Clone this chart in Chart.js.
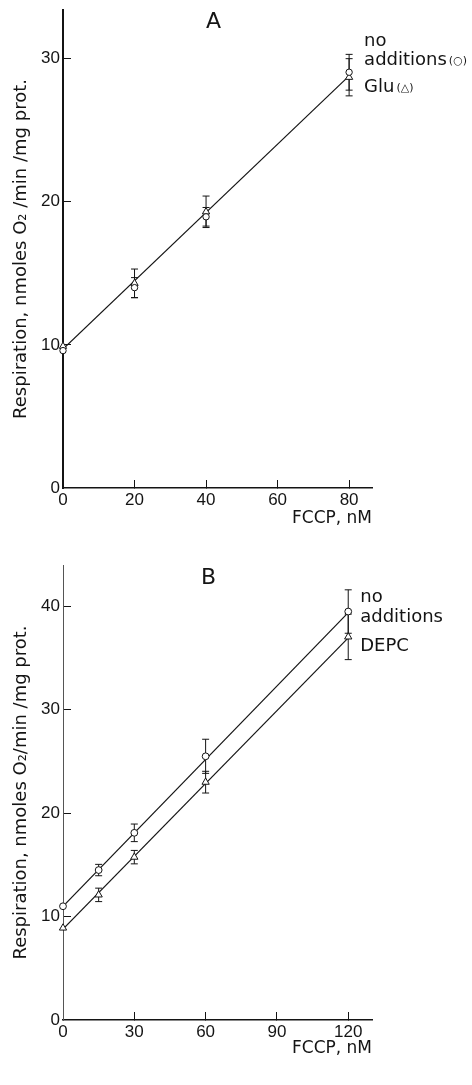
<!DOCTYPE html>
<html>
<head>
<meta charset="utf-8">
<script src="https://cdn.jsdelivr.net/npm/chart.js@4.4.0/dist/chart.umd.min.js"></script>
<style>
  body { margin: 0; background: #fff; }
  canvas { position: absolute; left: 0; }
</style>
</head>
<body>
<canvas id="panelA" width="472" height="535" style="top:0"></canvas>
<canvas id="panelB" width="472" height="550" style="top:535px"></canvas>
<script>
// A: FCCP titration, no additions vs glutamate
const fccpA = [0, 20, 40, 80];
const noAddA = [9.6, 14.0, 18.95, 29.05];
const noAddErrA = [0, 0.7, 0.65, 1.25];
const gluA = [9.9, 14.3, 19.3, 28.7];
const gluErrA = [0, 1.0, 1.1, 1.3];
const fitXA = [0, 80];
const fitA = [9.7, 28.8];
const xTicksA = [0, 20, 40, 60, 80];
const yTicksA = [0, 10, 20, 30];

// B: FCCP titration, no additions vs DEPC
const fccpB = [0, 15, 30, 60, 120];
const noAddB = [11.0, 14.5, 18.1, 25.5, 39.5];
const noAddErrB = [0, 0.55, 0.85, 1.65, 2.1];
const depcB = [8.9, 12.1, 15.75, 23.0, 37.05];
const depcErrB = [0, 0.65, 0.65, 1.05, 2.2];
const fitXB = [0, 120];
const noAddFitB = [11.0, 39.4];
const depcFitB = [8.8, 36.95];
const xTicksB = [0, 30, 60, 90, 120];
const yTicksB = [0, 10, 20, 30, 40];

const ink = '#141414';
const face = '"DejaVu Sans", sans-serif';
const tickFont = { family: '"Liberation Sans", sans-serif', size: 17 };

const pts = (xs, ys) => xs.map((x, i) => ({ x: x, y: ys[i] }));

// whiskers for mean +/- error, drawn under the markers
const errorBars = {
  id: 'errorBars',
  beforeDatasetsDraw(chart) {
    const { ctx, scales: { x, y } } = chart;
    ctx.save();
    ctx.strokeStyle = ink;
    ctx.lineWidth = 1;
    chart.data.datasets.forEach(ds => {
      if (!ds.errors) return;
      ds.data.forEach((p, i) => {
        const e = ds.errors[i];
        if (!e) return;
        const px = x.getPixelForValue(p.x);
        const top = y.getPixelForValue(p.y + e);
        const bot = y.getPixelForValue(p.y - e);
        ctx.beginPath();
        ctx.moveTo(px, top); ctx.lineTo(px, bot);
        ctx.moveTo(px - 3.5, top); ctx.lineTo(px + 3.5, top);
        ctx.moveTo(px - 3.5, bot); ctx.lineTo(px + 3.5, bot);
        ctx.stroke();
      });
    });
    ctx.restore();
  }
};

// panel letter and the labels next to the last points
function panelText(letter, letterDx, letterDy, notes) {
  return {
    id: 'panelText',
    afterDraw(chart) {
      const { ctx, chartArea, scales: { x, y } } = chart;
      ctx.save();
      ctx.fillStyle = ink;
      ctx.textBaseline = 'middle';
      ctx.textAlign = 'center';
      ctx.font = '22px ' + face;
      ctx.fillText(letter, (chartArea.left + chartArea.right) / 2 + letterDx, chartArea.top + letterDy);
      ctx.textAlign = 'left';
      notes.forEach(n => {
        let px = x.getPixelForValue(n.at[0]) + n.dx;
        const py = y.getPixelForValue(n.at[1]) + n.dy;
        ctx.font = '18px ' + face;
        ctx.fillText(n.text, px, py);
        if (n.mark) {
          px += ctx.measureText(n.text).width + 2;
          ctx.font = '11px ' + face;
          ctx.fillText(n.mark, px, py + 1);
        }
      });
      ctx.restore();
    }
  };
}

function markers(label, xs, ys, errs, style, r) {
  return {
    label: label, data: pts(xs, ys), errors: errs, showLine: false, clip: false,
    pointStyle: style, pointRadius: r, pointBackgroundColor: '#fff',
    pointBorderColor: ink, pointBorderWidth: 1
  };
}

function fitLine(xs, ys) {
  return { data: pts(xs, ys), showLine: true, pointRadius: 0, borderColor: ink, borderWidth: 1.2 };
}

function drawPanel(id, o) {
  new Chart(document.getElementById(id), {
    type: 'scatter',
    data: { datasets: o.datasets },
    options: {
      responsive: false,
      animation: false,
      events: [],
      layout: { padding: { top: o.padTop, right: 100, left: 0, bottom: 0 } },
      plugins: { legend: { display: false }, tooltip: { enabled: false } },
      scales: {
        x: {
          type: 'linear', min: 0, max: o.xMax,
          afterBuildTicks: s => { s.ticks = o.xTicks.map(v => ({ value: v })); },
          afterFit: s => { s.height = o.xAxisH; s.paddingLeft = 0; s.paddingRight = 0; },
          grid: { drawOnChartArea: false, drawTicks: true, tickLength: -8, color: ink, lineWidth: 1 },
          border: { display: true, color: ink, width: 1.5 },
          ticks: { color: ink, font: tickFont, padding: 10, maxRotation: 0 },
          title: {
            display: true, text: 'FCCP, nM', align: 'end', color: ink,
            font: { family: face, size: 17 }, padding: { top: 0, bottom: o.titlePadB }
          }
        },
        y: {
          type: 'linear', min: 0, max: o.yMax,
          afterBuildTicks: s => { s.ticks = o.yTicks.map(v => ({ value: v })); },
          afterFit: s => { s.width = 63; s.paddingTop = 0; s.paddingBottom = 0; },
          grid: {
            drawOnChartArea: false, drawTicks: true, tickLength: -8, lineWidth: 1,
            color: c => (c.tick && c.tick.value === 0 ? 'rgba(0,0,0,0)' : ink)
          },
          border: { display: true, color: o.yAxisColor, width: o.yAxisWidth },
          ticks: { color: ink, font: tickFont, padding: 11 },
          title: {
            display: true, text: o.yTitle, color: ink,
            font: { family: face, size: 18 }, padding: { top: 11, bottom: 0 }
          }
        }
      }
    },
    plugins: [errorBars, o.textPlugin]
  });
}

drawPanel('panelA', {
  datasets: [
    markers('no additions', fccpA, noAddA, noAddErrA, 'circle', 3.2),
    markers('Glu', fccpA, gluA, gluErrA, 'triangle', 4.2),
    fitLine(fitXA, fitA)
  ],
  xMax: 86.4, yMax: 33.4, xTicks: xTicksA, yTicks: yTicksA,
  padTop: 10, xAxisH: 47, titlePadB: 6,
  yAxisColor: ink, yAxisWidth: 2,
  yTitle: 'Respiration, nmoles O\u2082 /min /mg prot.',
  textPlugin: panelText('A', -4, 12, [
    { at: [fccpA[3], noAddA[3]], dx: 15, dy: -31, text: 'no' },
    { at: [fccpA[3], noAddA[3]], dx: 15, dy: -12, text: 'additions', mark: '(\u25CB)' },
    { at: [fccpA[3], gluA[3]], dx: 15, dy: 10, text: 'Glu', mark: '(\u25B3)' }
  ])
});

drawPanel('panelB', {
  datasets: [
    markers('no additions', fccpB, noAddB, noAddErrB, 'circle', 3.4),
    markers('DEPC', fccpB, depcB, depcErrB, 'triangle', 4.2),
    fitLine(fitXB, noAddFitB),
    fitLine(fitXB, depcFitB)
  ],
  xMax: 130, yMax: 44, xTicks: xTicksB, yTicks: yTicksB,
  padTop: 30, xAxisH: 65, titlePadB: 26,
  yAxisColor: '#555', yAxisWidth: 1,
  yTitle: 'Respiration, nmoles O\u2082/min /mg prot.',
  textPlugin: panelText('B', -9, 13, [
    { at: [fccpB[4], noAddB[4]], dx: 12, dy: -14, text: 'no' },
    { at: [fccpB[4], noAddB[4]], dx: 12, dy: 6, text: 'additions' },
    { at: [fccpB[4], depcB[4]], dx: 12, dy: 9, text: 'DEPC' }
  ])
});
</script>
</body>
</html>
